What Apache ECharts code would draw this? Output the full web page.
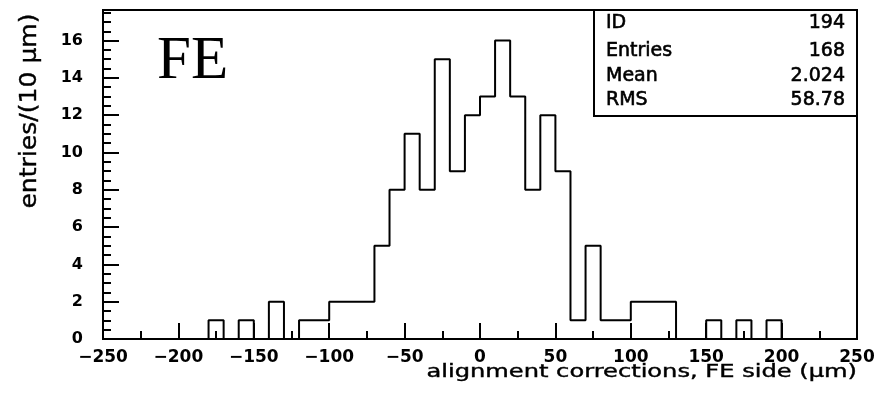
<!DOCTYPE html>
<html>
<head>
    <meta charset="utf-8" />
    <script src="https://cdn.jsdelivr.net/npm/echarts@6/dist/echarts.min.js"></script>
    <style>
        html, body { margin: 0; padding: 0; background: #fff; }
        #main { width: 879px; height: 401px; }
    </style>
</head>
<body>
    <div id="main"></div>
    <script type="text/javascript">
        // histogram: 10 um bins from -250 to 250
        var binStart = -250;
        var binWidth = 10;
        var counts = [
            0, 0, 0, 0, 0, 0, 0, 1, 0, 1,      // -250 .. -160
            0, 2, 0, 1, 1, 2, 2, 2, 5, 8,      // -150 .. -60
            11, 8, 15, 9, 12, 13, 16, 13, 8, 12, // -50 .. 40
            9, 1, 5, 1, 1, 2, 2, 2, 0, 0,      // 50 .. 140
            1, 0, 1, 0, 1, 0, 0, 0, 0, 0       // 150 .. 240
        ];
        var yMajorTicks = [0, 2, 4, 6, 8, 10, 12, 14, 16];
        var yMinorTicks = [0.5, 1, 1.5, 2.5, 3, 3.5, 4.5, 5, 5.5, 6.5, 7, 7.5, 8.5, 9, 9.5,
            10.5, 11, 11.5, 12.5, 13, 13.5, 14.5, 15, 15.5, 16.5, 17, 17.5];
        var statLabels = ['ID', 'Entries', 'Mean', 'RMS'];
        var statValues = ['194', '168', '2.024', '58.78'];

        var histData = [];
        for (var i = 0; i < counts.length; i++) {
            histData.push([binStart + i * binWidth, counts[i]]);
        }
        histData.push([binStart + counts.length * binWidth, 0]);

        var font = 'DejaVu Sans';
        function minus(v) {
            return String(v).replace('-', '\u2212');
        }

        var statY = [23, 51, 76, 100];
        var graphics = [
            {
                type: 'text', left: 157, top: 31,
                style: { text: 'FE', font: '61px "Liberation Serif"', fill: '#000' }
            },
            {
                type: 'rect', shape: { x: 594, y: 10, width: 263, height: 106 },
                style: { fill: '#fff', stroke: '#000', lineWidth: 2 }, z: 10
            },
            {
                type: 'text', x: 857, y: 373, scaleX: 1.42,
                style: { text: 'alignment corrections, FE side (µm)', font: '17px "DejaVu Sans"',
                    fill: '#000', stroke: '#000', lineWidth: 0.4, align: 'right', verticalAlign: 'middle' }
            },
            {
                type: 'text', x: 30, y: 111, rotation: Math.PI / 2, scaleX: 1.09,
                style: { text: 'entries/(10 µm)', font: '23px "DejaVu Sans"',
                    fill: '#000', stroke: '#000', lineWidth: 0.4, align: 'center', verticalAlign: 'middle' }
            }
        ];
        statLabels.forEach(function (s, k) {
            graphics.push({
                type: 'text', x: 606, y: statY[k], z: 11,
                style: { text: s, font: '19px "DejaVu Sans"', fill: '#000', stroke: '#000', lineWidth: 0.6,
                    verticalAlign: 'middle' }
            });
            graphics.push({
                type: 'text', x: 845, y: statY[k], z: 11,
                style: { text: statValues[k], font: '19px "DejaVu Sans"', fill: '#000', stroke: '#000', lineWidth: 0.6,
                    align: 'right', verticalAlign: 'middle' }
            });
        });

        var myChart = echarts.init(document.getElementById('main'));
        var option = {
            animation: false,
            backgroundColor: '#fff',
            grid: {
                left: 103, right: 22, top: 10, bottom: 62,
                show: true, borderColor: '#000', borderWidth: 2
            },
            xAxis: {
                type: 'value', min: -250, max: 250, interval: 50,
                axisLine: { onZero: false, lineStyle: { color: '#000', width: 2 } },
                axisTick: { inside: true, length: 16, lineStyle: { color: '#000', width: 2 } },
                minorTick: { show: true, splitNumber: 2, length: 8, lineStyle: { color: '#000', width: 2 } },
                axisLabel: { color: '#000', fontFamily: font, fontSize: 17, fontWeight: 'bold', margin: 10,
                    formatter: minus },
                splitLine: { show: false }
            },
            yAxis: [
                {
                    type: 'value', min: 0, max: 17.64,
                    axisLine: { show: true, onZero: false, lineStyle: { color: '#000', width: 2 } },
                    axisTick: { inside: true, length: 16, customValues: yMajorTicks,
                        lineStyle: { color: '#000', width: 2 } },
                    axisLabel: { color: '#000', fontFamily: font, fontSize: 16, fontWeight: 'bold', margin: 20,
                        customValues: yMajorTicks },
                    splitLine: { show: false }
                },
                {
                    type: 'value', min: 0, max: 17.64, position: 'left',
                    axisLine: { show: false, onZero: false },
                    axisTick: { inside: true, length: 8, customValues: yMinorTicks,
                        lineStyle: { color: '#000', width: 2 } },
                    axisLabel: { show: false },
                    splitLine: { show: false }
                }
            ],
            series: [{
                type: 'line',
                step: 'end',
                data: histData,
                showSymbol: false,
                lineStyle: { color: '#000', width: 2 },
                silent: true
            }],
            graphic: graphics
        };
        myChart.setOption(option);
    </script>
</body>
</html>
